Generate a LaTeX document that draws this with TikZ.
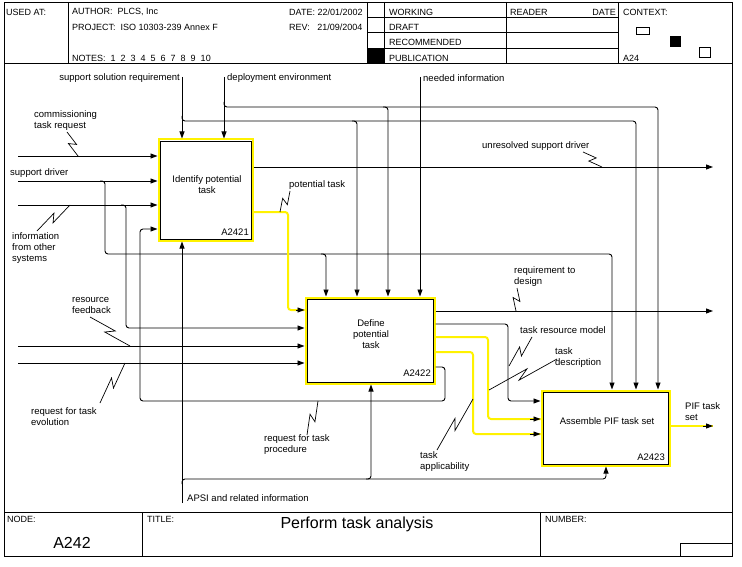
\documentclass[tikz,border=0pt]{standalone}
\usepackage{fontspec}
\setmainfont{Liberation Sans}
\usetikzlibrary{arrows.meta,calc}
\newcommand\lblfont{\fontsize{9.5}{11}\selectfont}
\newcommand\hdfont{\fontsize{9}{10}\selectfont}
\newcommand\bigfont{\fontsize{16}{18}\selectfont}
\newcommand\squig[2]{%
  \coordinate (sqS) at (#1);
  \coordinate (sqE) at (#2);
  \draw[sqline] (sqS) -- ($(sqS)!0.58!(sqE)!3.5pt!90:(sqE)$) -- ($(sqS)!0.42!(sqE)!3.5pt!-90:(sqE)$) -- (sqE);
}
\tikzset{
  frm/.style={line width=0.9pt},
  conn/.style={line width=0.9pt, rounded corners=3pt},
  arr/.style={conn, -{Triangle[length=7pt,width=5pt]}},
  hl/.style={line width=2pt, draw=yellow, rounded corners=3pt},
  sqline/.style={line width=0.7pt},
  lbl/.style={inner sep=0pt, align=left, anchor=west, font=\lblfont},
  hd/.style={inner sep=0pt, anchor=west, font=\hdfont},
  big/.style={inner sep=0pt, font=\bigfont},
  btxt/.style={inner sep=0pt, align=center, font=\lblfont},
  pbox/.style={draw=yellow, line width=2pt, inner sep=0pt,
    path picture={\draw[black,line width=0.9pt]
      ([shift={(1.5pt,-1.5pt)}]path picture bounding box.north west) rectangle
      ([shift={(-1.5pt,1.5pt)}]path picture bounding box.south east);}}
}
\begin{document}
\begin{tikzpicture}[x=1pt,y=-1pt]
\useasboundingbox (0,0) rectangle (742,567);
\fill[white] (0,0) rectangle (742,567);

% ---------- frame ----------
\draw[frm] (4,2) rectangle (732,556);
\draw[frm] (4,63) -- (732,63);
\draw[frm] (68,2) -- (68,63);
\draw[frm] (367,2) -- (367,63);
\draw[frm] (384,2) -- (384,63);
\draw[frm] (506,2) -- (506,63);
\draw[frm] (618,2) -- (618,63);
\foreach \yy in {17,32,48} \draw[frm] (367,\yy) -- (618,\yy);
\fill (367,48) rectangle (384,63);
\draw[frm] (4,512) -- (732,512);
\draw[frm] (142,512) -- (142,556);
\draw[frm] (540,512) -- (540,556);
\draw[frm] (680,556) -- (680,543) -- (732,543);
\draw[frm] (636,27) rectangle (649,34);
\fill (670,36) rectangle (681,47);
\draw[frm] (699,47) rectangle (710,57);

% header texts
\node[hd] (usedat) at (6,12) {USED AT:};
\node[hd] (author) at (72,12) {AUTHOR:\ \ PLCS, Inc};
\node[hd] (project) at (72,27) {PROJECT:\ \ ISO 10303-239 Annex F};
\node[hd] (notes) at (72,58) {NOTES:\ \ 1\ \ 2\ \ 3\ \ 4\ \ 5\ \ 6\ \ 7\ \ 8\ \ 9\ \ 10};
\node[hd] (date) at (289,12) {DATE: 22/01/2002};
\node[hd] (rev) at (289,27) {REV:\ \ \ 21/09/2004};
\node[hd] (working) at (389,12) {WORKING};
\node[hd] (draft) at (389,27) {DRAFT};
\node[hd] (recom) at (389,42) {RECOMMENDED};
\node[hd] (publ) at (389,58) {PUBLICATION};
\node[hd] (reader) at (510,12) {READER};
\node[hd, anchor=east] (rdate) at (616,12) {DATE};
\node[hd] (context) at (623,12) {CONTEXT:};
\node[hd] (ctxnode) at (623,58) {A24};

% footer texts
\node[hd] (nodelbl) at (7,519) {NODE:};
\node[big] (nodeid) at (72,543) {A242};
\node[hd] (titlelbl) at (147,519) {TITLE:};
\node[big] (title) at (357,524) {Perform task analysis};
\node[hd] (numlbl) at (545,519) {NUMBER:};

% ---------- boxes ----------
\node[pbox, minimum width=94pt, minimum height=101pt] (b1) at (205.5,190) {};
\node[pbox, minimum width=129pt, minimum height=86pt] (b2) at (370,340.5) {};
\node[pbox, minimum width=128pt, minimum height=75pt] (b3) at (605.5,428) {};
\node[btxt] (b1t) at (207,185) {Identify potential\\task};
\node[btxt, anchor=east] (b1id) at (249,232) {A2421};
\node[btxt] (b2t) at (371,334) {Define\\potential\\task};
\node[btxt, anchor=east] (b2id) at (431,373) {A2422};
\node[btxt] (b3t) at (607,421) {Assemble PIF task set};
\node[btxt, anchor=east] (b3id) at (665,457) {A2423};

% ---------- inputs ----------
\coordinate (in1) at (18,156);
\coordinate (in2) at (18,181);
\coordinate (in3) at (18,205);
\coordinate (in4) at (18,346);
\coordinate (in5) at (18,363);
\draw[arr] (in1) -- (in1 -| b1.west);
\draw[arr] (in2) -- (in2 -| b1.west);
\draw[arr] (in3) -- (in3 -| b1.west);
\draw[arr] (in4) -- (in4 -| b2.west);
\draw[arr] (in5) -- (in5 -| b2.west);
\draw[arr] (100,181) -- (105,181) -- (105,254) -- (612,254) -- (b3.north -| 612,0);
\draw[arr] (321,254) -- (326,254) -- (b2.north -| 326,0);
\draw[arr] (121,205) -- (126,205) -- (126,328) -- (b2.west |- 0,328);
\draw[arr] (b2.east |- 0,367) -- (445,367) -- (445,401) -- (140,401) -- (140,229) -- (b1.west |- 0,229);

% ---------- controls ----------
\coordinate (ct1) at (182,77);
\coordinate (ct2) at (224,77);
\coordinate (ct3) at (420,77);
\draw[arr] (ct1) -- (ct1 |- b1.north);
\draw[arr] (ct2) -- (ct2 |- b1.north);
\draw[arr] (ct3) -- (ct3 |- b2.north);
\draw[arr] (182,116) -- (182,121) -- (636,121) -- (b3.north -| 636,0);
\draw[arr] (352,121) -- (357,121) -- (b2.north -| 357,0);
\draw[arr] (224,102) -- (224,107) -- (658,107) -- (b3.north -| 658,0);
\draw[arr] (383,107) -- (388,107) -- (b2.north -| 388,0);

% ---------- outputs ----------
\coordinate (out1) at (713,167);
\coordinate (out2) at (713,311);
\coordinate (out3) at (713,426);
\draw[arr] (b1.east |- out1) -- (out1);
\draw[arr] (b2.east |- out2) -- (out2);
\draw[hl] (b3.east |- out3) -- (out3);
\draw[arr] ($(out3)+(-10,0)$) -- (out3);
\draw[hl] (b1.east |- 0,212) -- (288,212) -- (288,310) -- (b2.west |- 0,310);
\draw[arr] (296,310) -- (b2.west |- 0,310);
\draw[arr] (b2.east |- 0,324) -- (508,324) -- (508,401) -- (b3.west |- 0,401);
\draw[hl] (b2.east |- 0,337) -- (488,337) -- (488,419) -- (b3.west |- 0,419);
\draw[arr] (530,419) -- (b3.west |- 0,419);
\draw[hl] (b2.east |- 0,352) -- (473,352) -- (473,434) -- (b3.west |- 0,434);
\draw[arr] (530,434) -- (b3.west |- 0,434);

% ---------- mechanisms ----------
\coordinate (mc1) at (182,503);
\draw[arr] (mc1) -- (mc1 |- b1.south);
\draw[arr] (182,484) -- (182,479) -- (606,479) -- (b3.south -| 606,0);
\draw[arr] (366,479) -- (371,479) -- (b2.south -| 371,0);

% ---------- labels ----------
\node[lbl, anchor=east] (l1) at (180,78) {support solution requirement};
\node[lbl] (l2) at (227,78) {deployment environment};
\node[lbl] (l3) at (423,78) {needed information};
\node[lbl] (l4) at (34,120.5) {commissioning\\task request};
\node[lbl] (l5) at (10,173) {support driver};
\node[lbl] (l6) at (12,248) {information\\from other\\systems};
\node[lbl] (l7) at (72,305.5) {resource\\feedback};
\node[lbl] (l8) at (31,417) {request for task\\evolution};
\node[lbl] (l9) at (264,445) {request for task\\procedure};
\node[lbl] (l10) at (187,498) {APSI and related information};
\node[lbl] (l11) at (289,185) {potential task};
\node[lbl] (l12) at (482,146) {unresolved support driver};
\node[lbl] (l13) at (514,276.5) {requirement to\\design};
\node[lbl] (l14) at (520,330) {task resource model};
\node[lbl] (l15) at (555,357.5) {task\\description};
\node[lbl] (l16) at (420,461.5) {task\\applicability};
\node[lbl] (l17) at (685,411.5) {PIF task\\set};

% ---------- squiggles ----------
\squig{67,132}{78,156}
\squig{37,231}{70,205}
\squig{290,191}{280,212}
\squig{583,152}{602,167}
\squig{517,288}{516,311}
\squig{532,337}{509,366}
\squig{557,359}{489,390}
\squig{437,450}{473,399}
\squig{307,435}{318,401}
\squig{90,317}{130,346}
\squig{100,403}{125,363}
\end{tikzpicture}
\end{document}
